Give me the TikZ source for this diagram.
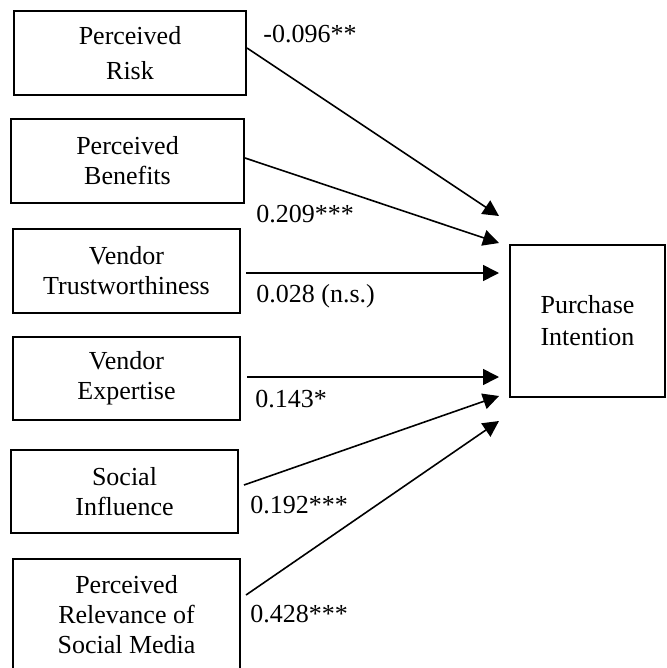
\documentclass[tikz,border=0pt]{standalone}
\usepackage{fontspec}
\setmainfont{Liberation Serif}
\usetikzlibrary{arrows.meta}

\begin{document}
\begin{tikzpicture}[
  x=0.5pt, y=-0.5pt,
  box/.style={draw, line width=1pt, align=center, inner sep=0pt,
              minimum width=113.5pt, minimum height=42pt,
              font=\fontsize{13}{15}\selectfont},
  coef/.style={anchor=base west, inner sep=0pt,
               font=\fontsize{13}{15}\selectfont},
  arr/.style={-{Triangle[length=8pt, width=8pt]}, line width=0.8pt}
]
  \clip (0,0) rectangle (666,668);

  % predictors
  \node[box, minimum width=116pt, font=\fontsize{13}{17.5}\selectfont]
        (risk)    at (130,53)    {Perceived\\Risk};
  \node[box, minimum width=116.5pt]
        (benefit) at (127.5,161) {Perceived\\Benefits};
  \node[box] (trust)  at (126.5,271)   {Vendor\\Trustworthiness};
  \node[box, minimum height=41.5pt]
        (expert)  at (126.5,378.5) {Vendor\\Expertise};
  \node[box, minimum height=41.5pt]
        (social)  at (124.5,491.5) {Social\\Influence};
  \node[box, minimum height=55.5pt]
        (relev)   at (126.5,614.5) {Perceived\\Relevance of\\Social Media};

  % outcome
  \node[box, minimum width=77.5pt, minimum height=76pt,
        font=\fontsize{13}{16}\selectfont]
        (intent)  at (587.5,321) {Purchase\\Intention};

  % arrow tips
  \coordinate (t1) at (499,216);
  \coordinate (t2) at (499,243);
  \coordinate (t3) at (499,273);
  \coordinate (t4) at (499,377);
  \coordinate (t5) at (499,396);
  \coordinate (t6) at (499,421);

  \draw[arr] ([yshift=2.5pt]risk.east)                -- (t1);
  \draw[arr] ([yshift=1.5pt]benefit.east)             -- (t2);
  \draw[arr] ([shift={(2.5pt,-1pt)}]trust.east)       -- (t3);
  \draw[arr] ([shift={(3pt,0.75pt)}]expert.east)      -- (t4);
  \draw[arr] ([shift={(2.5pt,3.25pt)}]social.east)    -- (t5);
  \draw[arr] ([shift={(2.5pt,9.75pt)}]relev.east)     -- (t6);

  % path coefficients
  \node[coef] (c1) at (263,43)  {-0.096**};
  \node[coef] (c2) at (256,222) {0.209***};
  \node[coef] (c3) at (256,302) {0.028 (n.s.)};
  \node[coef] (c4) at (255,407) {0.143*};
  \node[coef] (c5) at (250,513) {0.192***};
  \node[coef] (c6) at (250,622) {0.428***};
\end{tikzpicture}
\end{document}
